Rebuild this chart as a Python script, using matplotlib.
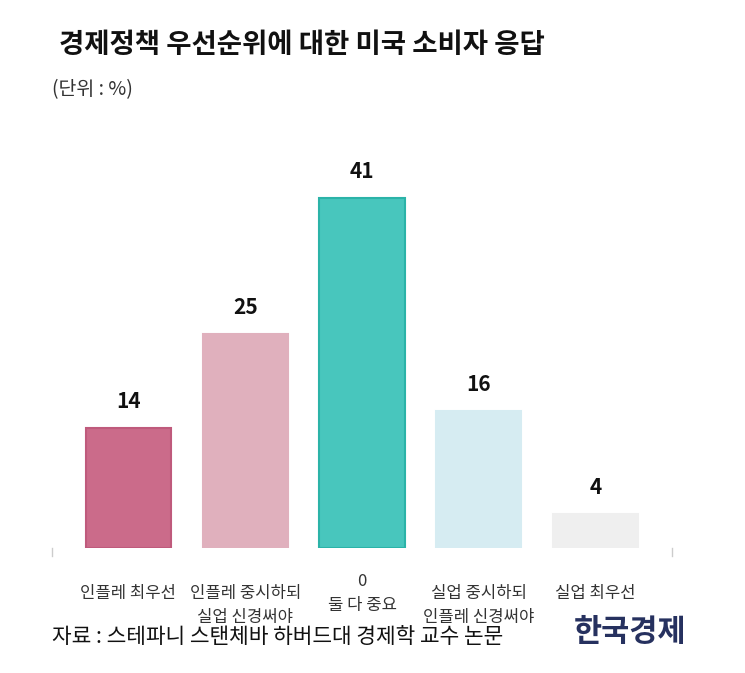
import matplotlib
matplotlib.use("Agg")
import matplotlib.pyplot as plt

plt.rcParams['font.family'] = ['Noto Sans CJK KR', 'DejaVu Sans']

categories = ["인플레 최우선", "인플레 중시하되\n실업 신경써야", "0\n둘 다 중요",
              "실업 중시하되\n인플레 신경써야", "실업 최우선"]
values = [14, 25, 41, 16, 4]
fill_colors = ["#cb6b8a", "#e0b0bd", "#48c6bd", "#d6ecf2", "#efefef"]
edge_colors = ["#bf5a7c", "#e0b0bd", "#2bb3a8", "#d6ecf2", "#efefef"]
label_y = [-0.09, -0.09, -0.06, -0.09, -0.09]  # axes-fraction offsets for category labels

fig = plt.figure(figsize=(7.45, 6.73), dpi=100)
ax = fig.add_axes([52/745, (673-548)/673, 620/745, 410/673])

x = list(range(len(values)))
ax.bar(x, values, width=0.73, color=fill_colors, edgecolor=edge_colors, linewidth=1.5)
ax.set_xlim(-0.655, 4.655)
ax.set_ylim(0, 48)

for xi, v in zip(x, values):
    ax.annotate(str(v), (xi, v), xytext=(0, 16), textcoords='offset pixels',
                ha='center', va='bottom', fontsize=15, fontweight='bold', color='#111111')

for xi, lab, ly in zip(x, categories, label_y):
    ax.text(xi, ly, lab, transform=ax.get_xaxis_transform(), ha='center', va='top',
            fontsize=12, color='#333333', linespacing=1.55)

for s in ax.spines.values():
    s.set_visible(False)
ax.set_xticks([])
ax.set_yticks([])
for xe in (0, 1):
    ax.plot([xe, xe], [0, -0.02], transform=ax.transAxes, clip_on=False,
            color='#cccccc', lw=1)

fig.text(59/745, 1-45/673, "경제정책 우선순위에 대한 미국 소비자 응답", fontsize=19.8,
         fontweight='bold', color='#111111', ha='left', va='center')
fig.text(52/745, 1-90/673, "(단위 : %)", fontsize=14, color='#333333', ha='left', va='center')
fig.text(52/745, 1-637/673, "자료 : 스테파니 스탠체바 하버드대 경제학 교수 논문", fontsize=15.4,
         color='#111111', ha='left', va='center')
fig.text(686/745, 1-632/673, "한국경제", fontsize=22, fontweight='bold', color='#26315f',
         ha='right', va='center')

fig.savefig("out.png", dpi=100, facecolor='white')
